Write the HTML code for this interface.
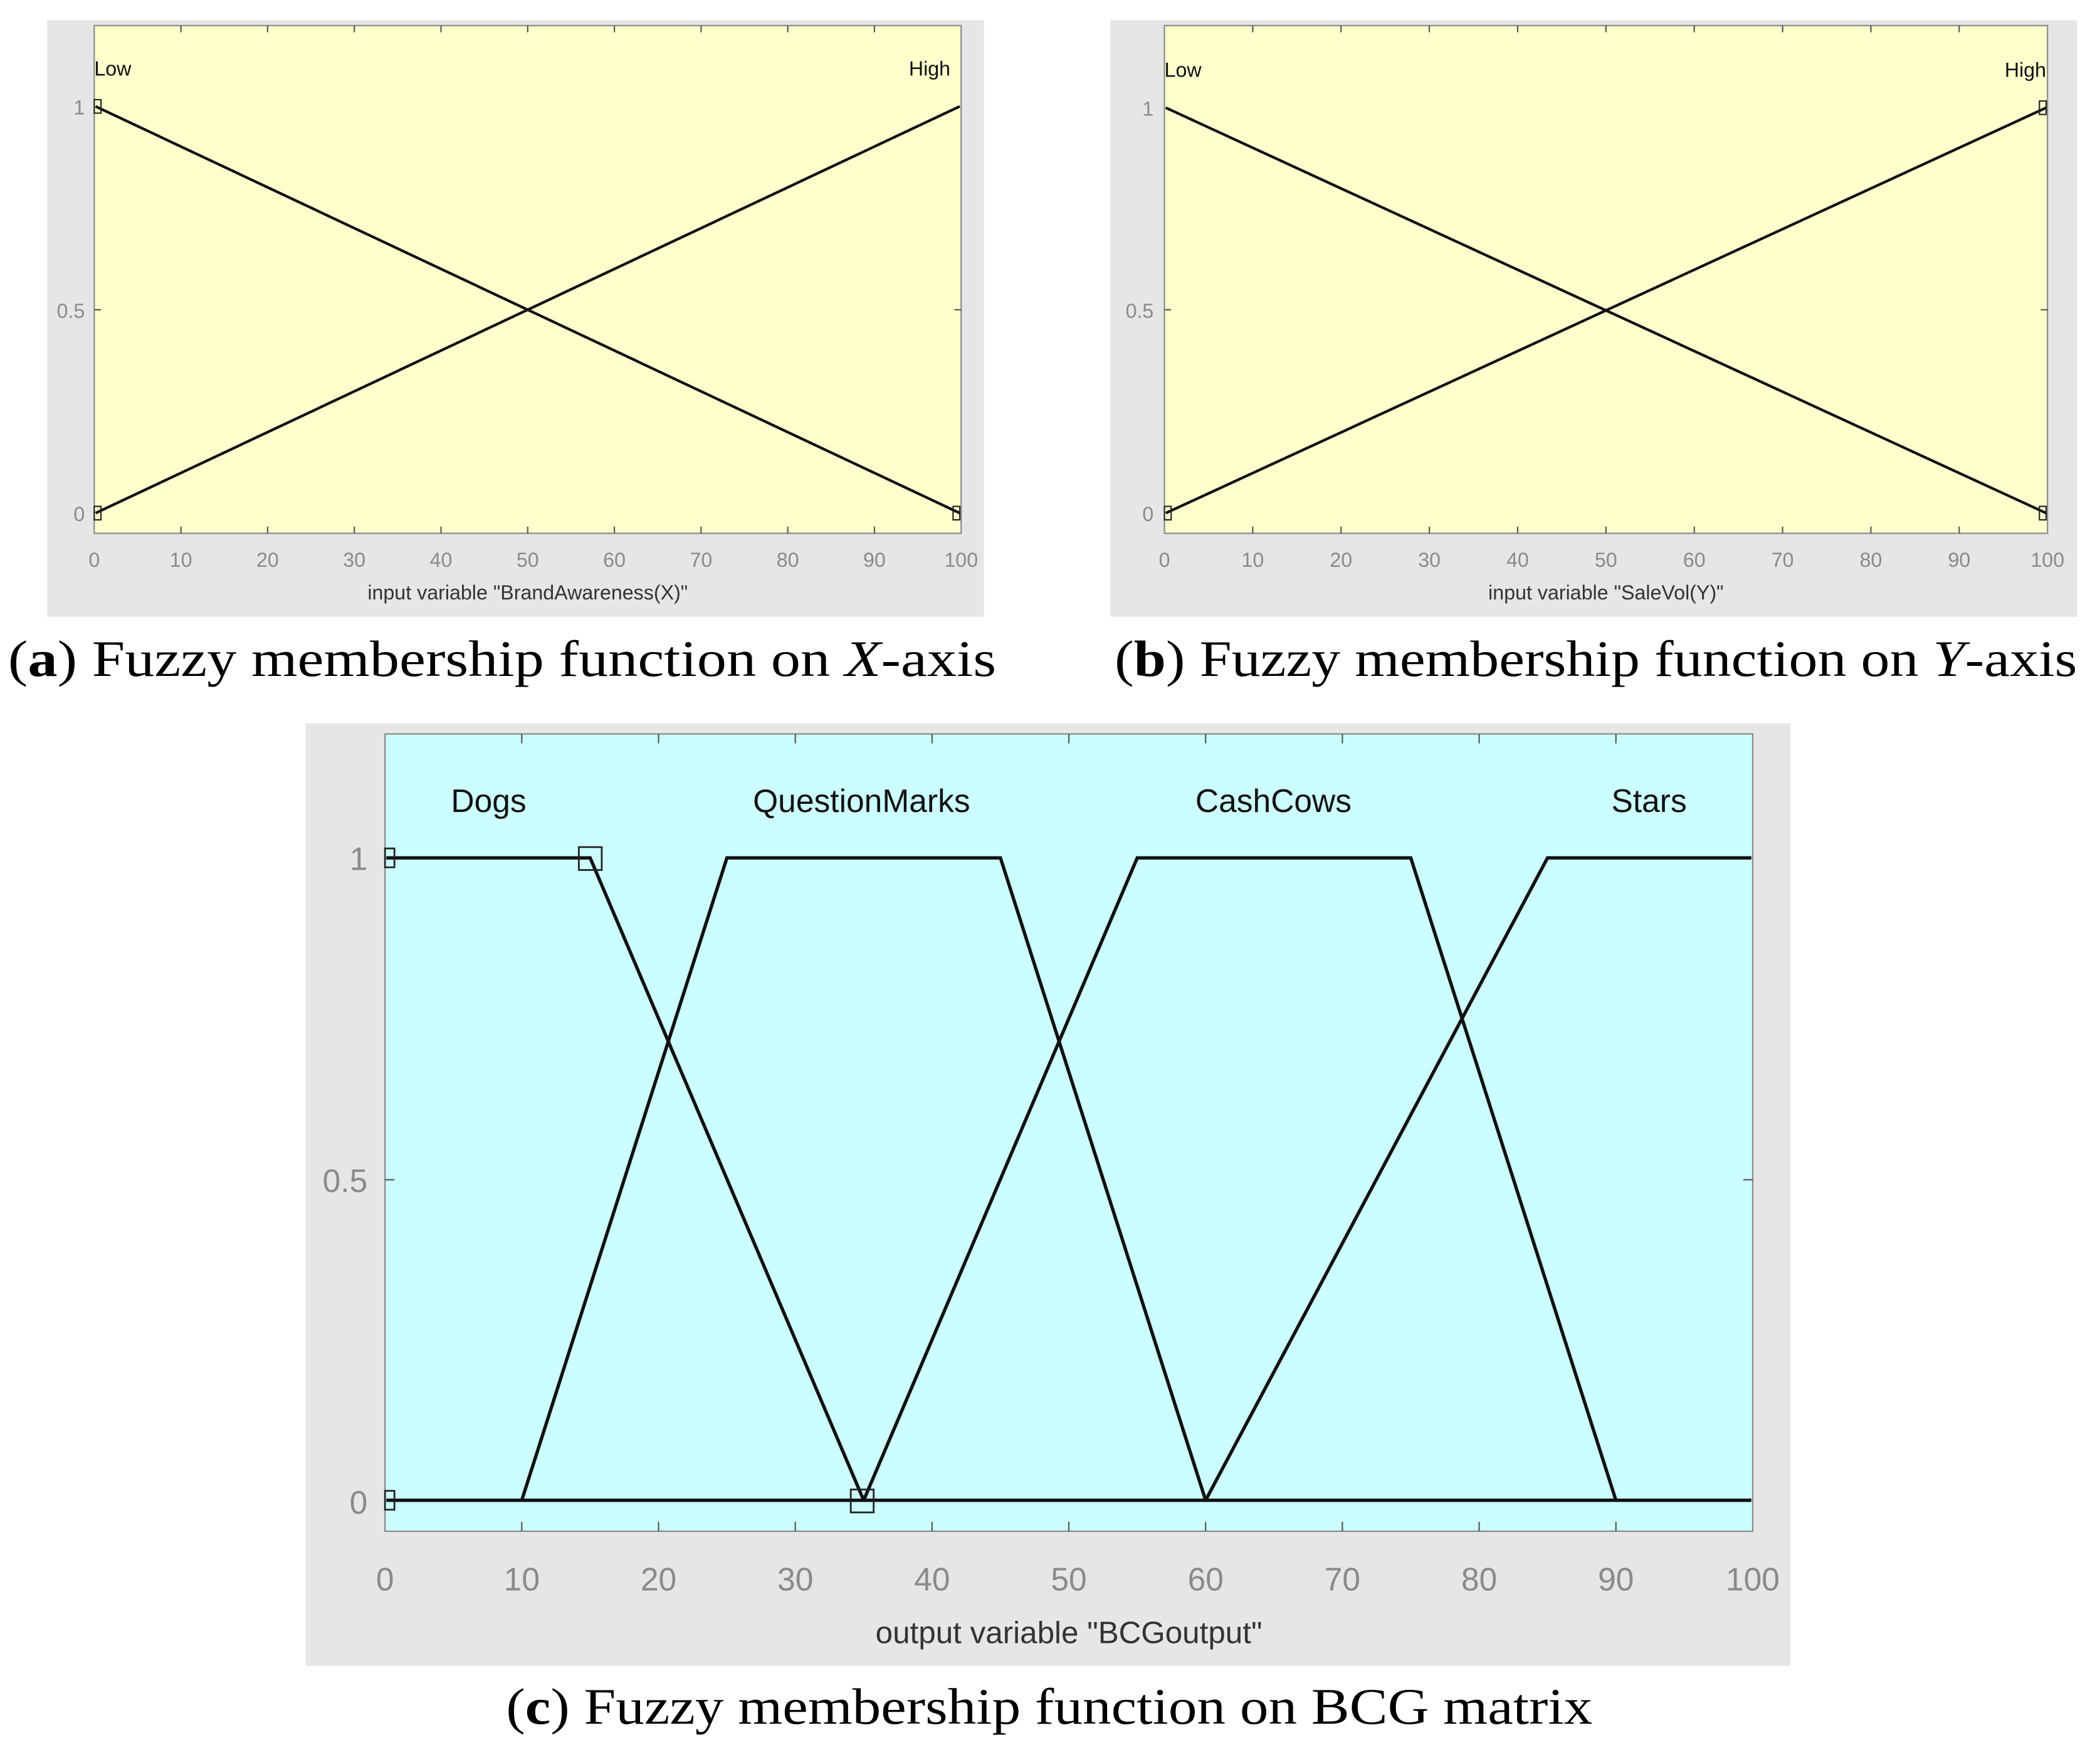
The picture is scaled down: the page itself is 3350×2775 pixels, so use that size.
<!DOCTYPE html>
<html><head><meta charset="utf-8"><style>
html,body{margin:0;padding:0;background:#fff;}
svg{display:block;}
.t{font-family:"Liberation Sans",sans-serif;}
.g{fill:#8a8a8a;}
.cap{font-family:"Liberation Serif",serif;font-size:38px;fill:#000;}
</style></head><body>
<svg width="3350" height="2775" viewBox="0 0 1560 1292" preserveAspectRatio="none" xmlns="http://www.w3.org/2000/svg">
<rect width="1560" height="1292" fill="#fff"/>

<!-- Panel a -->
<rect x="35" y="15" width="696" height="443" fill="#e6e6e6"/>
<rect x="70" y="19" width="644" height="377" fill="#ffffcd" stroke="#888" stroke-width="1"/>
<g stroke="#555" stroke-width="1">
<line x1="134.4" y1="19" x2="134.4" y2="24"/><line x1="198.8" y1="19" x2="198.8" y2="24"/><line x1="263.2" y1="19" x2="263.2" y2="24"/><line x1="327.6" y1="19" x2="327.6" y2="24"/><line x1="392" y1="19" x2="392" y2="24"/><line x1="456.4" y1="19" x2="456.4" y2="24"/><line x1="520.8" y1="19" x2="520.8" y2="24"/><line x1="585.2" y1="19" x2="585.2" y2="24"/><line x1="649.6" y1="19" x2="649.6" y2="24"/>
<line x1="134.4" y1="396" x2="134.4" y2="391"/><line x1="198.8" y1="396" x2="198.8" y2="391"/><line x1="263.2" y1="396" x2="263.2" y2="391"/><line x1="327.6" y1="396" x2="327.6" y2="391"/><line x1="392" y1="396" x2="392" y2="391"/><line x1="456.4" y1="396" x2="456.4" y2="391"/><line x1="520.8" y1="396" x2="520.8" y2="391"/><line x1="585.2" y1="396" x2="585.2" y2="391"/><line x1="649.6" y1="396" x2="649.6" y2="391"/>
<line x1="70" y1="230" x2="75" y2="230"/><line x1="714" y1="230" x2="709" y2="230"/>
</g>
<g stroke="#111" stroke-width="2" fill="none">
<line x1="71" y1="79" x2="713" y2="381"/><line x1="71" y1="381" x2="713" y2="79"/>
</g>
<g stroke="#222" stroke-width="1" fill="none">
<rect x="70" y="74" width="5" height="10"/><rect x="70" y="376" width="5" height="10"/><rect x="708" y="376" width="5" height="10"/>
</g>
<g class="t g" font-size="15">
<text x="63" y="85" text-anchor="end">1</text><text x="63" y="236" text-anchor="end">0.5</text><text x="63" y="387" text-anchor="end">0</text>
<g text-anchor="middle">
<text x="70" y="421">0</text><text x="134.4" y="421">10</text><text x="198.8" y="421">20</text><text x="263.2" y="421">30</text><text x="327.6" y="421">40</text><text x="392" y="421">50</text><text x="456.4" y="421">60</text><text x="520.8" y="421">70</text><text x="585.2" y="421">80</text><text x="649.6" y="421">90</text><text x="714" y="421">100</text>
</g></g>
<text class="t" font-size="15" x="70" y="56" fill="#111">Low</text>
<text class="t" font-size="15" x="706" y="56" text-anchor="end" fill="#111">High</text>
<text class="t" font-size="15" x="392" y="445" text-anchor="middle" fill="#333">input variable "BrandAwareness(X)"</text>
<text class="cap" x="6" y="502" textLength="734" lengthAdjust="spacingAndGlyphs">(<tspan font-weight="bold">a</tspan>) Fuzzy membership function on <tspan font-style="italic">X</tspan>-axis</text>

<!-- Panel b -->
<rect x="825" y="15" width="718" height="443" fill="#e6e6e6"/>
<rect x="865" y="19" width="656" height="377" fill="#ffffcd" stroke="#888" stroke-width="1"/>
<g stroke="#555" stroke-width="1">
<line x1="930.6" y1="19" x2="930.6" y2="24"/><line x1="996.2" y1="19" x2="996.2" y2="24"/><line x1="1061.8" y1="19" x2="1061.8" y2="24"/><line x1="1127.4" y1="19" x2="1127.4" y2="24"/><line x1="1193" y1="19" x2="1193" y2="24"/><line x1="1258.6" y1="19" x2="1258.6" y2="24"/><line x1="1324.2" y1="19" x2="1324.2" y2="24"/><line x1="1389.8" y1="19" x2="1389.8" y2="24"/><line x1="1455.4" y1="19" x2="1455.4" y2="24"/>
<line x1="930.6" y1="396" x2="930.6" y2="391"/><line x1="996.2" y1="396" x2="996.2" y2="391"/><line x1="1061.8" y1="396" x2="1061.8" y2="391"/><line x1="1127.4" y1="396" x2="1127.4" y2="391"/><line x1="1193" y1="396" x2="1193" y2="391"/><line x1="1258.6" y1="396" x2="1258.6" y2="391"/><line x1="1324.2" y1="396" x2="1324.2" y2="391"/><line x1="1389.8" y1="396" x2="1389.8" y2="391"/><line x1="1455.4" y1="396" x2="1455.4" y2="391"/>
<line x1="865" y1="230" x2="870" y2="230"/><line x1="1521" y1="230" x2="1516" y2="230"/>
</g>
<g stroke="#111" stroke-width="2" fill="none">
<line x1="866" y1="80" x2="1520" y2="381"/><line x1="866" y1="381" x2="1520" y2="80"/>
</g>
<g stroke="#222" stroke-width="1" fill="none">
<rect x="865" y="376" width="5" height="10"/><rect x="1515" y="75" width="5" height="10"/><rect x="1515" y="376" width="5" height="10"/>
</g>
<g class="t g" font-size="15">
<text x="857" y="86" text-anchor="end">1</text><text x="857" y="236" text-anchor="end">0.5</text><text x="857" y="387" text-anchor="end">0</text>
<g text-anchor="middle">
<text x="865" y="421">0</text><text x="930.6" y="421">10</text><text x="996.2" y="421">20</text><text x="1061.8" y="421">30</text><text x="1127.4" y="421">40</text><text x="1193" y="421">50</text><text x="1258.6" y="421">60</text><text x="1324.2" y="421">70</text><text x="1389.8" y="421">80</text><text x="1455.4" y="421">90</text><text x="1521" y="421">100</text>
</g></g>
<text class="t" font-size="15" x="865" y="57" fill="#111">Low</text>
<text class="t" font-size="15" x="1520" y="57" text-anchor="end" fill="#111">High</text>
<text class="t" font-size="15" x="1193" y="445" text-anchor="middle" fill="#333">input variable "SaleVol(Y)"</text>
<text class="cap" x="828" y="502" textLength="715" lengthAdjust="spacingAndGlyphs">(<tspan font-weight="bold">b</tspan>) Fuzzy membership function on <tspan font-style="italic">Y</tspan>-axis</text>

<!-- Panel c -->
<rect x="227" y="537" width="1103" height="700" fill="#e6e6e6"/>
<rect x="286" y="545" width="1016" height="592" fill="#ccfeff" stroke="#888" stroke-width="1"/>
<g stroke="#555" stroke-width="1">
<line x1="387.6" y1="545" x2="387.6" y2="552"/><line x1="489.2" y1="545" x2="489.2" y2="552"/><line x1="590.8" y1="545" x2="590.8" y2="552"/><line x1="692.4" y1="545" x2="692.4" y2="552"/><line x1="794" y1="545" x2="794" y2="552"/><line x1="895.6" y1="545" x2="895.6" y2="552"/><line x1="997.2" y1="545" x2="997.2" y2="552"/><line x1="1098.8" y1="545" x2="1098.8" y2="552"/><line x1="1200.4" y1="545" x2="1200.4" y2="552"/>
<line x1="387.6" y1="1137" x2="387.6" y2="1130"/><line x1="489.2" y1="1137" x2="489.2" y2="1130"/><line x1="590.8" y1="1137" x2="590.8" y2="1130"/><line x1="692.4" y1="1137" x2="692.4" y2="1130"/><line x1="794" y1="1137" x2="794" y2="1130"/><line x1="895.6" y1="1137" x2="895.6" y2="1130"/><line x1="997.2" y1="1137" x2="997.2" y2="1130"/><line x1="1098.8" y1="1137" x2="1098.8" y2="1130"/><line x1="1200.4" y1="1137" x2="1200.4" y2="1130"/>
<line x1="286" y1="876" x2="293" y2="876"/><line x1="1302" y1="876" x2="1295" y2="876"/>
</g>
<g stroke="#111" stroke-width="2.5" fill="none" stroke-linejoin="miter">
<line x1="287" y1="1114" x2="1301" y2="1114"/>
<polyline points="287,637 438.4,637 641.6,1114"/>
<polyline points="387.6,1114 540,637 743.2,637 895.6,1114"/>
<polyline points="641.6,1114 844.8,637 1048,637 1200.4,1114"/>
<polyline points="895.6,1114 1149.6,637 1301,637"/>
</g>
<g stroke="#222" stroke-width="1.3" fill="none">
<rect x="286" y="630" width="7" height="14"/><rect x="286" y="1107" width="7" height="14"/>
<rect x="430" y="629" width="17" height="17"/><rect x="632" y="1106" width="17" height="17"/>
</g>
<g class="t" font-size="24" fill="#111" text-anchor="middle">
<text x="363" y="603">Dogs</text><text x="640" y="603">QuestionMarks</text><text x="946" y="603">CashCows</text><text x="1225" y="603">Stars</text>
</g>
<g class="t g" font-size="24">
<text x="273" y="646" text-anchor="end">1</text><text x="273" y="885" text-anchor="end">0.5</text><text x="273" y="1124" text-anchor="end">0</text>
<g text-anchor="middle">
<text x="286" y="1181">0</text><text x="387.6" y="1181">10</text><text x="489.2" y="1181">20</text><text x="590.8" y="1181">30</text><text x="692.4" y="1181">40</text><text x="794" y="1181">50</text><text x="895.6" y="1181">60</text><text x="997.2" y="1181">70</text><text x="1098.8" y="1181">80</text><text x="1200.4" y="1181">90</text><text x="1302" y="1181">100</text>
</g></g>
<text class="t" font-size="23" x="794" y="1220" text-anchor="middle" fill="#333">output variable "BCGoutput"</text>
<text class="cap" x="376" y="1280" textLength="807" lengthAdjust="spacingAndGlyphs">(<tspan font-weight="bold">c</tspan>) Fuzzy membership function on BCG matrix</text>
</svg>
</body></html>
